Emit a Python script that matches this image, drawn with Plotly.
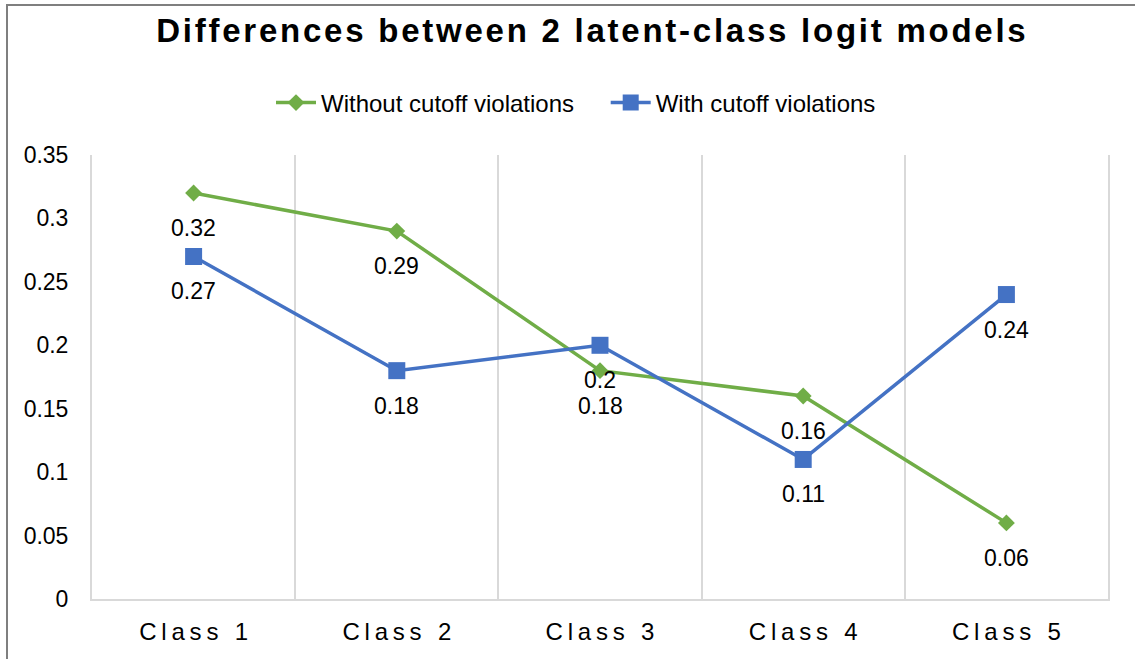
import plotly.graph_objects as go

categories = ["Class 1", "Class 2", "Class 3", "Class 4", "Class 5"]
without_cutoff = [0.32, 0.29, 0.18, 0.16, 0.06]
with_cutoff = [0.27, 0.18, 0.2, 0.11, 0.24]
y_ticks = [0, 0.05, 0.1, 0.15, 0.2, 0.25, 0.3, 0.35]

GREEN = "#70AD47"
BLUE = "#4472C4"
GRID = "#D9D9D9"
FONT = "Liberation Sans, Arial, sans-serif"


def spaced(text, gap="\u2009"):
    """Mimic the letter spacing of the original with narrow spaces."""
    return gap.join(text)


def create_line_chart():
    """
    Line chart comparing the two models
    """

    fig = go.Figure()

    fig.add_trace(
        go.Scatter(
            x=categories,
            y=without_cutoff,
            mode="lines+markers",
            name="Without cutoff violations" + "\u00a0" * 4,
            line={"color": GREEN, "width": 3.5},
            marker={"symbol": "diamond", "size": 13, "color": GREEN},
        )
    )

    fig.add_trace(
        go.Scatter(
            x=categories,
            y=with_cutoff,
            mode="lines+markers",
            name="With cutoff violations",
            line={"color": BLUE, "width": 3.5},
            marker={"symbol": "square", "size": 17, "color": BLUE},
        )
    )

    # data labels below each point
    for series in [without_cutoff, with_cutoff]:
        for cat, val in zip(categories, series):
            fig.add_annotation(
                x=cat,
                y=val,
                text=f"{val:g}",
                showarrow=False,
                yshift=-35,
                font={"size": 23, "color": "#000000", "family": FONT},
            )

    # outer chart border
    fig.add_shape(
        type="rect",
        xref="paper",
        yref="paper",
        x0=(7 - 92) / 1016,
        x1=(1145 - 92) / 1016,
        y0=(599 - 680) / 444,
        y1=(599 - 5) / 444,
        line={"color": "#7F7F7F", "width": 2},
        layer="below",
    )

    fig.update_layout(
        width=1135,
        height=659,
        margin={"l": 92, "r": 27, "t": 155, "b": 60},
        paper_bgcolor="white",
        plot_bgcolor="white",
        font={"family": FONT, "color": "#000000"},
        title={
            "text": "<b>" + spaced("Differences between 2 latent-class logit models", "\u200a") + "</b>",
            "x": 591 / 1135,
            "xanchor": "center",
            "y": 1 - 30 / 659,
            "yanchor": "middle",
            "font": {"size": 33, "color": "#000000", "family": FONT},
        },
        legend={
            "orientation": "h",
            "x": (576 - 92) / 1016,
            "xanchor": "center",
            "y": (599 - 103) / 444,
            "yanchor": "middle",
            "font": {"size": 24, "family": FONT},
            "itemwidth": 40,
        },
        showlegend=True,
    )

    fig.update_xaxes(
        type="category",
        tickson="boundaries",
        showgrid=True,
        gridcolor=GRID,
        gridwidth=2,
        showline=True,
        linecolor=GRID,
        linewidth=2,
        ticks="",
        tickvals=categories,
        ticktext=[spaced(c) for c in categories],
        tickfont={"size": 24, "family": FONT},
        ticklabelstandoff=10,
        range=[-0.5, 4.5],
    )

    fig.update_yaxes(
        range=[0, 0.35],
        tickvals=y_ticks,
        ticktext=[f"{v:g}" for v in y_ticks],
        showgrid=False,
        zeroline=False,
        showline=True,
        mirror=True,
        linecolor=GRID,
        linewidth=2,
        ticks="",
        tickfont={"size": 23, "family": FONT},
        ticklabelstandoff=17,
    )

    return fig


fig = create_line_chart()
fig.write_html(
    "out.html",
    config={"displayModeBar": False},
    post_script="document.body.style.margin = '0';",
)
